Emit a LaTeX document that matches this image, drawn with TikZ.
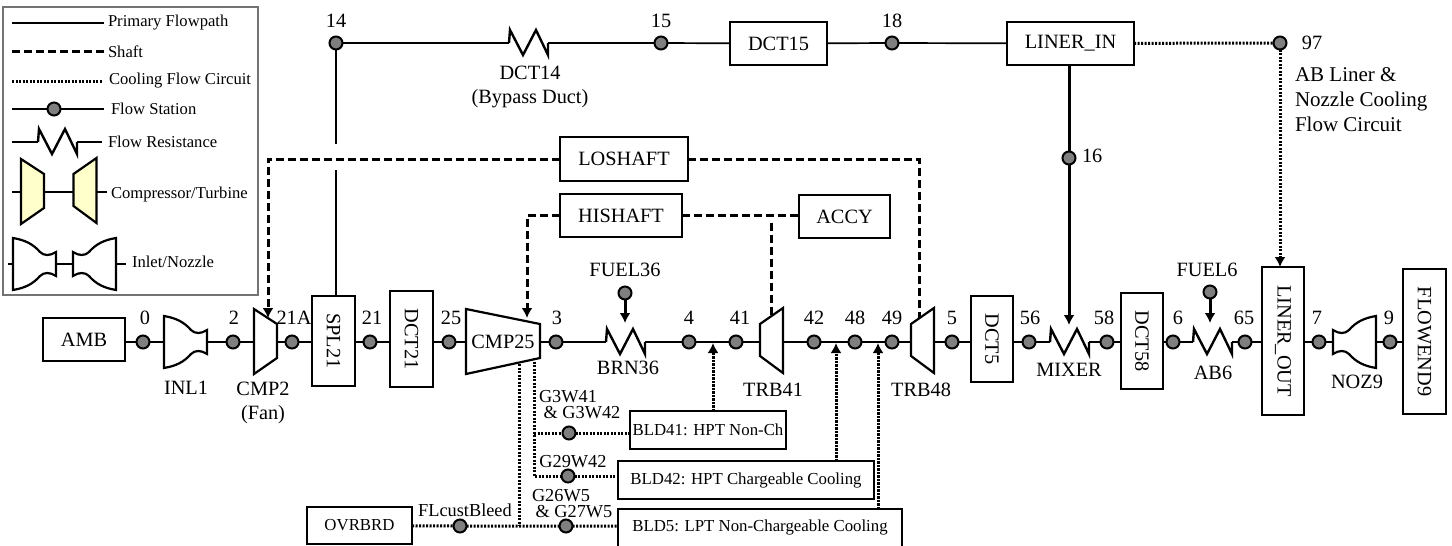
\documentclass[tikz,border=0pt]{standalone}
\usepackage{fontspec}
\usepackage{graphicx}
\setmainfont{Liberation Serif}
\usetikzlibrary{arrows.meta}
\definecolor{stngray}{HTML}{7F7F7F}
\definecolor{paleyel}{HTML}{FFFFCC}
\definecolor{ink}{HTML}{000000}
\newcommand{\fsB}{\fontsize{20.3}{24}\selectfont}
\newcommand{\fsM}{\fontsize{18.3}{20}\selectfont}
\newcommand{\fsK}{\fontsize{16.8}{20}\selectfont}
\newcommand{\fsS}{\fontsize{16.6}{20}\selectfont}
\newcommand{\rot}[1]{\rotatebox{-90}{#1}}
\tikzset{
  every node/.style={inner sep=0pt,outer sep=0pt,text=ink},
  blk/.style={draw=ink,line width=2.1pt,fill=white,font=\fsB,align=center},
  blkm/.style={blk,font=\fsK},
  stn/.style={circle,draw=ink,line width=2pt,fill=stngray,minimum size=13pt},
  lab/.style={font=\fsB,align=center},
  labm/.style={font=\fsM,align=center},
  labs/.style={font=\fsS,anchor=west},
  flow/.style={draw=ink,line width=2pt},
  thickflow/.style={draw=ink,line width=3pt},
  shaft/.style={draw=ink,line width=3pt,dash pattern=on 8pt off 4pt},
  cool/.style={draw=ink,line width=3pt,dash pattern=on 2.2pt off 1.3pt},
  tip/.style={-{Latex[length=10pt,width=11pt]}},
  shape line/.style={draw=ink,line width=2.2pt,line join=miter},
  resist/.pic={
    \coordinate (-w) at (0,0);
    \coordinate (-e) at (39,0);
    \draw[draw=ink,line width=2.4pt,line join=miter] (0,0) -- (1,-13) -- (14,12) -- (27,-13) -- (39,12) -- (39,0);
  },
  comp/.pic={
    \coordinate (-w) at (0,0);
    \coordinate (-e) at (23,0);
    \draw[shape line,pic actions] (0,-33) -- (23,-18) -- (23,16) -- (0,32) -- cycle;
  },
  turb/.pic={
    \coordinate (-w) at (0,0);
    \coordinate (-e) at (23,0);
    \draw[shape line,pic actions] (23,-34) -- (0,-18) -- (0,14) -- (23,31) -- cycle;
  },
  inlet/.pic={
    \coordinate (-w) at (0,0);
    \coordinate (-e) at (43,0);
    \draw[shape line,pic actions] (0,-26) .. controls (12,-24) and (20,-20) .. (27,-12)
      .. controls (31,-8) and (37,-8) .. (43,-12) -- (43,12)
      .. controls (37,8) and (31,8) .. (27,12) .. controls (20,20) and (12,24) .. (0,26) -- cycle;
  },
  nozzle/.pic={
    \coordinate (-w) at (0,0);
    \coordinate (-e) at (43,0);
    \draw[shape line,pic actions] (43,-26) .. controls (31,-24) and (23,-20) .. (16,-12)
      .. controls (12,-8) and (6,-8) .. (0,-12) -- (0,12)
      .. controls (6,8) and (12,8) .. (16,12) .. controls (23,20) and (31,24) .. (43,26) -- cycle;
  },
}
\begin{document}
\begin{tikzpicture}[x=1pt,y=-1pt]
\useasboundingbox (0,0) rectangle (1452,546);
\fill[white] (0,0) rectangle (1452,546);

% ---------- legend ----------
\node[draw=gray!90!black,line width=1.4pt,minimum width=255pt,minimum height=288pt] (legend) at (130.5,151) {};
\coordinate (la1) at (12,23); \coordinate (la2) at (104,23);
\coordinate (lb1) at (12,51); \coordinate (lb2) at (104,51);
\coordinate (lc1) at (12,81); \coordinate (lc2) at (102,81);
\coordinate (ld1) at (12,109); \coordinate (ld2) at (104,109);
\node[stn] (lstn) at (54,109) {};
\coordinate (le1) at (12,142); \coordinate (le2) at (102,142);
\coordinate (lf1) at (12,192); \coordinate (lf2) at (107,192);
\coordinate (lg1) at (8,264); \coordinate (lg2) at (126,264);
\draw[flow] (la1) -- (la2);
\draw[shaft] (lb1) -- (lb2);
\draw[cool] (lc1) -- (lc2);
\draw[flow] (ld1) -- (lstn) -- (ld2);
\pic (lres) at (38,142) {resist};
\draw[flow,line width=2.4pt] (le1) -- (lres-w) (lres-e) -- (le2);
\pic[fill=paleyel] (lcp) at (21,192) {comp};
\pic[fill=paleyel] (ltb) at (73.5,192) {turb};
\draw[flow] (lf1) -- (lcp-w) (lcp-e) -- (ltb-w) (ltb-e) -- (lf2);
\pic[fill=white] (lin) at (13,264) {inlet};
\pic[fill=white] (lnz) at (73,264) {nozzle};
\draw[flow] (lg1) -- (lin-w) (lin-e) -- (lnz-w) (lnz-e) -- (lg2);
\node[labs] (lt1) at (108,23) {Primary Flowpath};
\node[labs] (lt2) at (108,52) {Shaft};
\node[labs] (lt3) at (109,81) {Cooling Flow Circuit};
\node[labs] (lt4) at (111,109) {Flow Station};
\node[labs] (lt5) at (108,142) {Flow Resistance};
\node[labs] (lt6) at (111,195) {Compressor/Turbine};
\node[labs] (lt7) at (132,262) {Inlet/Nozzle};

% ---------- blocks ----------
\node[blk,minimum width=82pt,minimum height=43pt] (amb) at (84,339.5) {AMB};
\node[blk,minimum width=43pt,minimum height=90pt] (spl) at (333.5,341) {\rot{SPL21}};
\node[blk,minimum width=43pt,minimum height=96pt] (dct21) at (411.5,339) {\rot{DCT21}};
\node[blk,minimum width=42pt,minimum height=86pt] (dct5) at (992,339) {\rot{DCT5}};
\node[blk,minimum width=42pt,minimum height=96pt] (dct58) at (1142,341) {\rot{DCT58}};
\node[blk,minimum width=42pt,minimum height=148pt] (lout) at (1283,341) {\rot{LINER\_OUT}};
\node[blk,minimum width=43pt,minimum height=145pt] (fend) at (1424.5,341.5) {\rot{FLOWEND9}};
\node[blk,minimum width=97pt,minimum height=43pt] (dct15) at (778.5,43.5) {DCT15};
\node[blk,minimum width=127pt,minimum height=43pt] (lin) at (1070.5,43.5) {LINER\_IN};
\node[blk,minimum width=128pt,minimum height=44pt] (lo) at (624,159) {LOSHAFT};
\node[blk,minimum width=122pt,minimum height=43pt] (hi) at (621,215.5) {HISHAFT};
\node[blk,minimum width=91pt,minimum height=43pt] (accy) at (844.5,216.5) {ACCY};
\node[blkm,minimum width=156pt,minimum height=38pt] (bld41) at (708,430) {BLD41: HPT Non-Ch};
\node[blkm,minimum width=256pt,minimum height=38pt] (bld42) at (746,480) {BLD42: HPT Chargeable Cooling};
\node[font=\fsK,minimum width=284pt,minimum height=37pt] (bld5) at (760,527.5) {BLD5: LPT Non-Chargeable Cooling};
\node[blkm,minimum width=105pt,minimum height=37pt] (ovr) at (359.5,525.5) {OVRBRD};

% ---------- stations ----------
\foreach \n/\x in {0/143,2/233,21A/292,21/370,25/449,3/556,4/689,41/736,42/814,48/855,49/892,5/952,56/1029,58/1107,6/1173,65/1245,7/1319,9/1390}
  \node[stn] (s\n) at (\x,342) {};
\foreach \n/\x in {14/336,15/661,18/892,97/1280}
  \node[stn] (s\n) at (\x,43) {};
\node[stn] (s16) at (1069,158) {};
\node[stn] (sf36) at (625,293) {};
\node[stn] (sf6) at (1210,292) {};
\node[stn] (sg3) at (569,433) {};
\node[stn] (sg29) at (568,476) {};
\node[stn] (sg26) at (566,526) {};
\node[stn] (sfl) at (460,526) {};

% ---------- coordinates on the flow path ----------
\coordinate (gapa) at (336,144);
\coordinate (gapb) at (336,170);
\coordinate (t4) at (713,343);
\coordinate (t42) at (836,343);
\coordinate (t49) at (878,343);
\coordinate (c25a) at (534,358);
\coordinate (c25b) at (519,364);
\coordinate (cmpE) at (540,342);
\coordinate (cmpW) at (466,342);
\coordinate (tipa) at (268,318);
\coordinate (tipb) at (527,318);
\coordinate (tipc) at (771,318);
\coordinate (tipd) at (919,318);
\coordinate (tipe) at (625,323);
\coordinate (tipf) at (1210,323);
\coordinate (tipg) at (1069,325);

% ---------- components ----------
\pic (dct14r) at (509,43) {resist};
\pic (brn) at (606,342) {resist};
\pic (mix) at (1050,342) {resist};
\pic (abr) at (1193,342) {resist};
\pic[fill=white] (inl) at (164,342) {inlet};
\pic[fill=white] (noz) at (1333,342) {nozzle};
\pic[fill=white] (cmp2) at (254,342) {comp};
\pic[fill=white] (trb41) at (760,342) {turb};
\pic[fill=white] (trb48) at (911,342) {turb};
\draw[shape line,fill=white] (466,309) -- (540,324) -- (540,358) -- (466,374) -- cycle;
\node[lab] (cmp25) at (503,342) {CMP25};

% ---------- primary flow ----------
\draw[flow] (amb.east |- s0) -- (s0) -- (inl-w);
\draw[flow] (inl-e) -- (s2) -- (cmp2-w);
\draw[flow] (cmp2-e) -- (s21A) -- (spl.west |- s21A);
\draw[flow] (spl.east |- s21) -- (s21) -- (dct21.west |- s21);
\draw[flow] (dct21.east |- s25) -- (s25) -- (cmpW);
\draw[flow] (cmpE) -- (s3) -- (brn-w);
\draw[flow] (brn-e) -- (s4) -- (s41) -- (trb41-w);
\draw[flow] (trb41-e) -- (s42) -- (s48) -- (s49) -- (trb48-w);
\draw[flow] (trb48-e) -- (s5) -- (dct5.west |- s5);
\draw[flow] (dct5.east |- s56) -- (s56) -- (mix-w);
\draw[flow] (mix-e) -- (s58) -- (dct58.west |- s58);
\draw[flow] (dct58.east |- s6) -- (s6) -- (abr-w);
\draw[flow] (abr-e) -- (s65) -- (lout.west |- s65);
\draw[flow] (lout.east |- s7) -- (s7) -- (noz-w);
\draw[flow] (noz-e) -- (s9) -- (fend.west |- s9);
\draw[thickflow,line width=2.4pt] (brn-w) ++(-24,0) -- (brn-w);
\draw[thickflow,line width=2.4pt] (brn-e) -- ++(27,0);
\draw[flow,line width=1.7pt] (s14) -- (dct14r-w);
\draw[flow,line width=1.7pt] (dct14r-e) -- (s15) -- (dct15);
\draw[flow,line width=1.7pt] (dct15) -- (s18) -- (lin);
\draw[thickflow,line width=2.4pt] (dct14r-w) ++(-25,0) -- (dct14r-w);
\draw[thickflow,line width=2.4pt] (dct14r-e) -- ++(26,0);
\draw[flow,line width=1.7pt] (s14) -- (gapa);
\draw[flow,line width=1.7pt] (gapb) -- (spl.north -| gapb);
\draw[thickflow] (lin.south -| s16) -- (s16);
\draw[thickflow,tip] (s16) -- (tipg);
\draw[thickflow,tip] (sf36) -- (tipe);
\draw[thickflow,tip] (sf6) -- (tipf);

% ---------- shafts ----------
\draw[shaft,tip] (lo.west) -| (tipa);
\draw[shaft] (lo.east) -| (tipd);
\draw[shaft,tip] (hi.west) -| (tipb);
\draw[shaft] (hi.east) -- (accy.west |- hi.east);
\draw[shaft] (tipc |- accy.west) ++(0,6) -- (tipc);

% ---------- cooling ----------
\draw[cool] (lin) -- (s97);
\draw[cool,tip] (s97) -- (lout.north -| s97);
\draw[cool] (c25a) |- (sg29);
\draw[cool] (sg29) -- (bld42.west |- sg29);
\draw[cool] (c25a |- sg3) -- (sg3) -- (bld41.west |- sg3);
\draw[cool] (c25b) -- (c25b |- sg26);
\draw[cool] (ovr) -- (sfl) -- (sg26) -- (bld5.west |- sg26);
\draw[cool,tip] (t4 |- bld41.north) -- (t4);
\draw[cool,tip] (t42 |- bld42.north) -- (t42);
\draw[cool,tip] (t49 |- bld5.north) -- (t49);

% open-bottomed BLD5 outline
\draw[draw=ink,line width=2.1pt] (bld5.south west) -- (bld5.north west) -- (bld5.north east) -- (bld5.south east);

% ---------- labels ----------
\foreach \n/\t/\x in {a/0/145,b/2/234,c/21A/294,d/21/372,e/25/451,f/3/557,g/4/689,h/41/740,i/42/814,j/48/855,k/49/892,l/5/952,m/56/1030,n/58/1104,o/6/1178,p/65/1244,q/7/1317,r/9/1389}
  \node[lab] (n\n) at (\x,318) {\t};
\node[lab] (n14) at (336,21) {14};
\node[lab] (n15) at (661,21) {15};
\node[lab] (n18) at (892,21) {18};
\node[lab] (n97) at (1312,43) {97};
\node[lab,anchor=west] (n16) at (1082,156) {16};
\node[lab,anchor=north west,align=left,font=\fontsize{21}{25}\selectfont] (nab) at (1295,68) {AB Liner \&\\Nozzle Cooling\\Flow Circuit};
\node[lab] (ndct14) at (530,73) {DCT14};
\node[lab] (nbyp) at (530,99) {(Bypass Duct)};
\node[lab] (nf36) at (625,270) {FUEL36};
\node[lab] (nf6) at (1207,270) {FUEL6};
\node[lab] (ninl) at (186,388) {INL1};
\node[lab] (ncmp) at (263,389) {CMP2};
\node[lab] (nfan) at (263,415) {(Fan)};
\node[lab] (nbrn) at (628,368) {BRN36};
\node[lab] (ntrb1) at (773,390) {TRB41};
\node[lab] (ntrb2) at (921,390) {TRB48};
\node[lab] (nmix) at (1069,370) {MIXER};
\node[lab] (nab6) at (1213,373) {AB6};
\node[lab] (nnoz) at (1357,382) {NOZ9};
\node[labm] (ng3a) at (568,397) {G3W41};
\node[labm] (ng3b) at (582,413) {\& G3W42};
\node[labm] (ng29) at (573,462) {G29W42};
\node[labm] (ng26a) at (561,496) {G26W5};
\node[labm] (ng26b) at (574,512) {\& G27W5};
\node[labm] (nfl) at (465,510) {FLcustBleed};
\end{tikzpicture}
\end{document}
